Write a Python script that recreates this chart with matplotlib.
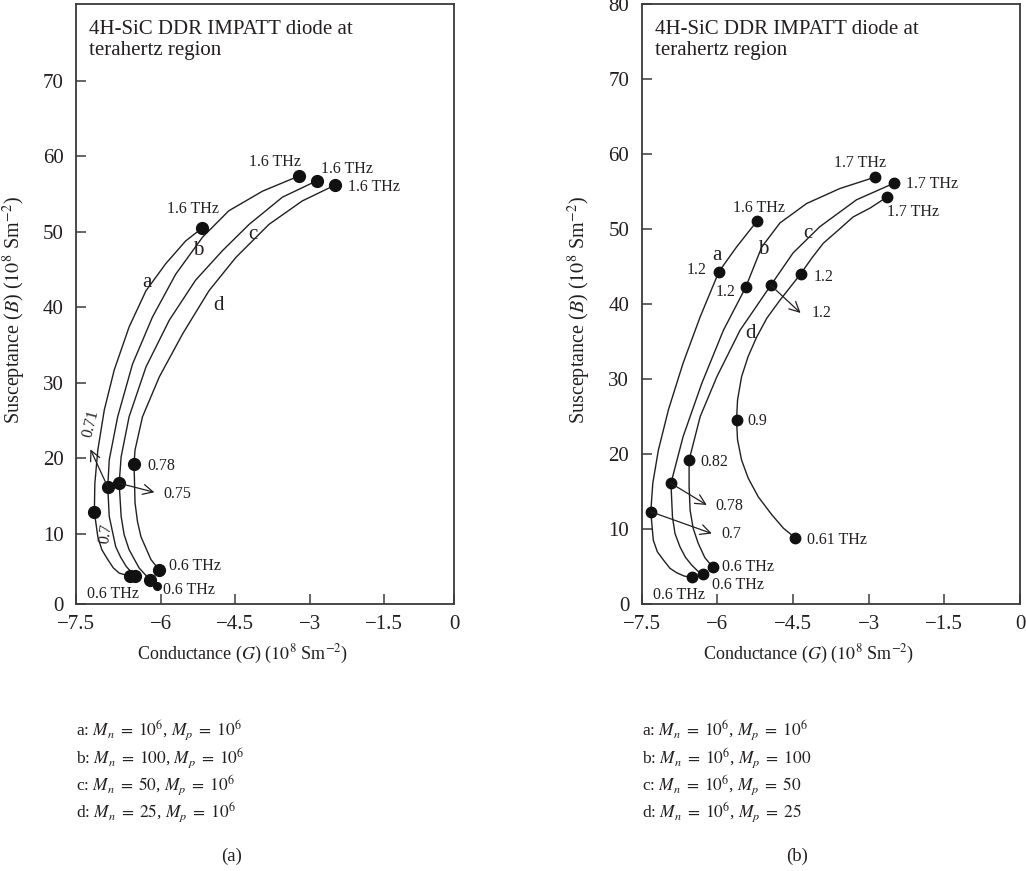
import matplotlib
matplotlib.use('Agg')
import matplotlib.pyplot as plt

plt.rcParams['font.family'] = ['Liberation Serif', 'DejaVu Serif']
plt.rcParams['mathtext.fontset'] = 'stix'
INK = '#231f20'

# ---- panel (a): conductance G, susceptance B (10^8 Sm^-2) ----
a_left_G = [-5.17, -5.50, -5.90, -6.30, -6.64, -6.94, -7.14, -7.27, -7.33, -7.34, -7.27, -7.19, -7.07, -6.96, -6.84, -6.62]
a_left_B = [50.5, 48.8, 45.8, 42.2, 37.4, 31.7, 26.4, 21.1, 16.7, 12.9, 9.6, 7.9, 6.6, 5.5, 4.8, 4.36]
b_left_G = [-3.22, -3.95, -4.63, -5.16, -5.70, -6.17, -6.57, -6.87, -7.04, -7.07, -7.04, -6.91, -6.81, -6.70, -6.52]
b_left_B = [57.4, 55.4, 52.8, 49.3, 44.4, 38.7, 32.5, 25.5, 19.8, 16.2, 12.3, 8.3, 6.9, 5.7, 4.36]
c_left_G = [-2.85, -3.55, -4.22, -4.76, -5.30, -5.83, -6.30, -6.64, -6.80, -6.84, -6.80, -6.74, -6.64, -6.44, -6.22, -6.07]
c_left_B = [56.8, 54.6, 51.0, 47.5, 43.6, 38.3, 32.1, 25.5, 20.2, 16.7, 12.3, 9.9, 7.9, 5.5, 3.9, 3.1]
d_left_G = [-2.49, -3.15, -3.82, -4.49, -5.03, -5.56, -6.03, -6.37, -6.52, -6.54, -6.52, -6.47, -6.40, -6.20, -6.03]
d_left_B = [56.2, 54.1, 51.0, 46.6, 42.2, 36.5, 30.8, 25.5, 21.1, 19.3, 14.1, 11.6, 9.6, 6.6, 5.2]
left_mark_G = [-5.17, -7.34, -6.62, -3.22, -7.07, -6.52, -2.85, -6.84, -6.22, -2.49, -6.54, -6.03]
left_mark_B = [50.5, 12.9, 4.36, 57.4, 16.2, 4.36, 56.8, 16.7, 3.9, 56.2, 19.3, 5.2]
left_small_G = [-6.07]
left_small_B = [3.1]

# ---- panel (b) ----
a_right_G = [-5.22, -5.62, -5.97, -6.34, -6.68, -6.97, -7.17, -7.28, -7.32, -7.27, -7.19, -7.07, -6.94, -6.81, -6.66, -6.51]
a_right_B = [51.0, 47.6, 44.3, 38.3, 32.1, 25.9, 20.5, 16.1, 12.3, 8.5, 6.97, 5.87, 4.76, 4.18, 3.73, 3.56]
b_right_G = [-2.88, -3.57, -4.23, -4.76, -5.12, -5.44, -5.88, -6.31, -6.68, -6.92, -6.89, -6.84, -6.74, -6.63, -6.51, -6.39, -6.28]
b_right_B = [56.9, 55.4, 53.4, 50.8, 47.6, 42.2, 36.5, 29.4, 22.3, 16.1, 11.6, 9.4, 7.6, 6.2, 5.2, 4.4, 4.0]
c_right_G = [-2.50, -3.24, -3.97, -4.50, -4.94, -5.55, -6.01, -6.34, -6.56, -6.56, -6.54, -6.48, -6.38, -6.25, -6.09]
c_right_B = [56.1, 53.9, 50.3, 46.8, 42.5, 36.5, 30.3, 25.0, 19.2, 15.6, 12.5, 10.1, 8.1, 6.2, 4.9]
d_right_G = [-2.63, -2.97, -3.31, -3.56, -3.90, -4.13, -4.35, -4.76, -5.02, -5.22, -5.39, -5.52, -5.60, -5.62,
             -5.60, -5.52, -5.39, -5.19, -4.92, -4.69, -4.46]
d_right_B = [54.3, 52.8, 51.6, 50.1, 48.1, 46.1, 44.0, 40.5, 38.1, 35.6, 33.0, 30.3, 27.2, 24.5,
             21.9, 19.2, 16.8, 14.3, 11.9, 10.1, 8.84]
right_mark_G = [-5.22, -5.97, -7.32, -6.51, -2.88, -5.44, -6.92, -6.28,
                -2.50, -4.94, -6.56, -6.09, -2.63, -4.35, -5.62, -4.46]
right_mark_B = [51.0, 44.3, 12.3, 3.56, 56.9, 42.2, 16.1, 4.0,
                56.1, 42.5, 19.2, 4.9, 54.3, 44.0, 24.5, 8.84]

legend_left = [r'a: $M_n\;=\;10^6$, $M_p\;=\;10^6$',
               r'b: $M_n\;=\;100$, $M_p\;=\;10^6$',
               r'c: $M_n\;=\;50$, $M_p\;=\;10^6$',
               r'd: $M_n\;=\;25$, $M_p\;=\;10^6$']
legend_right = [r'a: $M_n\;=\;10^6$, $M_p\;=\;10^6$',
                r'b: $M_n\;=\;10^6$, $M_p\;=\;100$',
                r'c: $M_n\;=\;10^6$, $M_p\;=\;50$',
                r'd: $M_n\;=\;10^6$, $M_p\;=\;25$']

title = '4H-SiC DDR IMPATT diode at\nterahertz region'
xlab = r'Conductance ($G$) ($10^8$ Sm$^{-2}$)'
ylab = r'Susceptance ($B$) ($10^8$ Sm$^{-2}$)'


def style_axes(ax):
    for sp in ax.spines.values():
        sp.set_color('#3a3a3a')
        sp.set_linewidth(1.3)
    ax.tick_params(direction='in', length=7, width=1.1, color='#3a3a3a',
                   labelsize=15, labelcolor=INK)
    ax.tick_params(axis='y', pad=9)
    ax.tick_params(axis='x', pad=8)
    ax.text(0.034, 0.973, title, transform=ax.transAxes, ha='left', va='top',
            fontsize=15, color=INK, linespacing=1.1)
    ax.set_xlabel(xlab, fontsize=13, color=INK)
    ax.set_ylabel(ylab, fontsize=14.5, color=INK)
    ax.xaxis.set_label_coords(0.44, -0.064)
    ax.yaxis.set_label_coords(-0.128, 0.49)


def arrow(ax, start, head):
    ax.annotate('', xy=head, xytext=start,
                arrowprops=dict(arrowstyle='->', lw=0.9, color=INK,
                                shrinkA=0, shrinkB=0, mutation_scale=18))


def lab(ax, g, b, s, size=11.5, ha='center', rot=0):
    ax.text(g, b, s, fontsize=size, ha=ha, va='center', color=INK, rotation=rot)


fig = plt.figure(figsize=(10.26, 8.71), dpi=100)
axL = fig.add_axes([76 / 1026, 267 / 871, 378 / 1026, 600 / 871])
axR = fig.add_axes([641.7 / 1026, 267 / 871, 378.3 / 1026, 600 / 871])

# panel (a)
for g, b in [(a_left_G, a_left_B), (b_left_G, b_left_B), (c_left_G, c_left_B), (d_left_G, d_left_B)]:
    axL.plot(g, b, color=INK, lw=1.0, solid_joinstyle='round')
axL.plot(left_mark_G, left_mark_B, 'o', color='#111', ms=8.5, ls='none')
axL.plot(left_small_G, left_small_B, 'o', color='#111', ms=5.5, ls='none')
axL.set_xlim(-7.71, -0.09)
axL.set_ylim(0.7, 80.2)
axL.set_xticks([-7.71, -6, -4.5, -3, -1.5, -0.09], ['\u22127.5', '\u22126', '\u22124.5', '\u22123', '\u22121.5', '0'])
axL.set_yticks([0.7, 10, 20, 30, 40, 50, 60, 70], ['0', '10', '20', '30', '40', '50', '60', '70'])
style_axes(axL)
lab(axL, -5.35, 53.0, '1.6 THz')
lab(axL, -3.70, 59.2, '1.6 THz')
lab(axL, -2.25, 58.3, '1.6 THz')
lab(axL, -1.71, 55.9, '1.6 THz')
lab(axL, -6.28, 19.0, '0.78', ha='left')
lab(axL, -5.66, 15.3, '0.75')
lab(axL, -6.96, 1.97, '0.6 THz')
lab(axL, -5.83, 5.7, '0.6 THz', ha='left')
lab(axL, -5.95, 2.5, '0.6 THz', ha='left')
lab(axL, -7.41, 24.6, '0.71', rot=76)
lab(axL, -7.11, 10.0, '0.7', rot=82)
for s, g, b in [('a', -6.29, 43.3), ('b', -5.25, 47.5), ('c', -4.14, 49.7), ('d', -4.83, 40.2)]:
    lab(axL, g, b, s, size=15)
arrow(axL, (-7.07, 16.2), (-7.42, 21.2))
arrow(axL, (-6.84, 16.7), (-6.13, 15.5))

# panel (b)
for g, b in [(a_right_G, a_right_B), (b_right_G, b_right_B), (c_right_G, c_right_B), (d_right_G, d_right_B)]:
    axR.plot(g, b, color=INK, lw=1.0, solid_joinstyle='round')
axR.plot(right_mark_G, right_mark_B, 'o', color='#111', ms=7.5, ls='none')
axR.set_xlim(-7.5, 0)
axR.set_ylim(0, 80)
axR.set_xticks([-7.5, -6, -4.5, -3, -1.5, 0], ['\u22127.5', '\u22126', '\u22124.5', '\u22123', '\u22121.5', '0'])
axR.set_yticks(range(0, 81, 10))
style_axes(axR)
lab(axR, -5.17, 52.8, '1.6 THz')
lab(axR, -3.17, 58.8, '1.7 THz')
lab(axR, -2.27, 56.0, '1.7 THz', ha='left')
lab(axR, -2.12, 52.2, '1.7 THz')
lab(axR, -6.41, 44.5, '1.2')
lab(axR, -5.83, 41.6, '1.2')
lab(axR, -3.90, 43.6, '1.2')
lab(axR, -3.93, 38.8, '1.2')
lab(axR, -5.20, 24.4, '0.9')
lab(axR, -6.07, 19.0, '0.82')
lab(axR, -5.76, 13.1, '0.78')
lab(axR, -5.72, 9.3, '0.7')
lab(axR, -3.63, 8.5, '0.61 THz')
lab(axR, -5.91, 5.0, '0.6 THz', ha='left')
lab(axR, -6.11, 2.5, '0.6 THz', ha='left')
lab(axR, -6.77, 1.2, '0.6 THz')
for s, g, b in [('a', -6.0, 46.4), ('b', -5.09, 47.2), ('c', -4.2, 49.4), ('d', -5.35, 36.1)]:
    lab(axR, g, b, s, size=15)
arrow(axR, (-4.94, 42.5), (-4.35, 38.8))
arrow(axR, (-6.92, 16.1), (-6.21, 13.2))
arrow(axR, (-7.32, 12.3), (-6.11, 9.4))

# legends under each panel
rows_y = [730, 758, 785, 812]
for txt, py in zip(legend_left, rows_y):
    fig.text(76 / 1026, 1 - py / 871, txt, fontsize=12.5, color=INK, va='center')
for txt, py in zip(legend_right, rows_y):
    fig.text(641.7 / 1026, 1 - py / 871, txt, fontsize=12.5, color=INK, va='center')
fig.text(232 / 1026, 1 - 856 / 871, '(a)', fontsize=13.5, color=INK, ha='center', va='center')
fig.text(797 / 1026, 1 - 856 / 871, '(b)', fontsize=13.5, color=INK, ha='center', va='center')

fig.savefig('out.png', dpi=100, facecolor='white')
